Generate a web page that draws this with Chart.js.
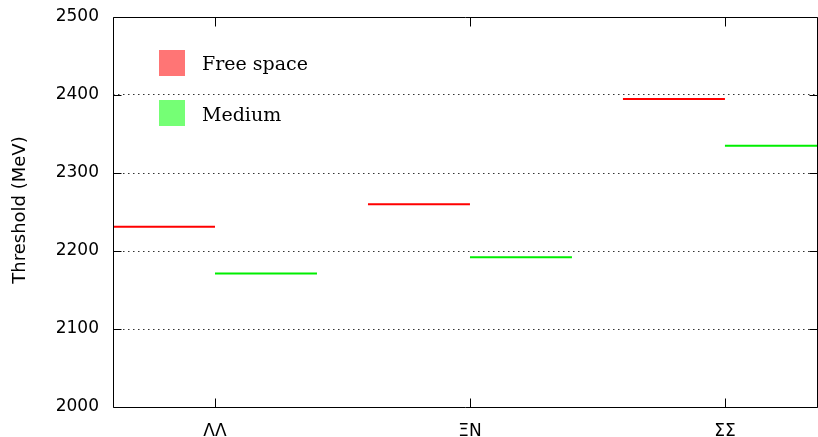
<!DOCTYPE html>
<html>
<head>
<meta charset="utf-8">
<script src="https://cdn.jsdelivr.net/npm/chart.js@4"></script>
<style>
  html, body { margin: 0; padding: 0; background: #fff; }
  #wrap { width: 818px; height: 437px; }
</style>
</head>
<body>
<div id="wrap"><canvas id="mycanvas" width="818" height="437"></canvas></div>
<script>
// data
var categories = ['ΛΛ', 'ΞN', 'ΣΣ'];
var freeSpace = [2231, 2260, 2395];
var medium = [2171, 2192, 2335];
var yTicks = [2000, 2100, 2200, 2300, 2400, 2500];
var seriesNames = ['Free space', 'Medium'];

var lineColors = ['#ff0000', '#00ee00'];
var keyColors = ['#ff7575', '#75ff75'];
var half = 0.4;   // each level spans 0.4 of a category slot

// free space level sits left of the category position, medium level right of it
function segments(values, side) {
	var pts = [];
	for (var i = 0; i < values.length; i++) {
		var c = i + 1;
		if (side < 0) {
			pts.push({x: c - half, y: values[i]});
			pts.push({x: c, y: values[i]});
		} else {
			pts.push({x: c, y: values[i]});
			pts.push({x: c + half, y: values[i]});
		}
		pts.push({x: c, y: null});
	}
	return pts;
}

// box, tick marks, legend and y title
var framePlugin = {
	id: 'frame',
	afterDraw: function(chart) {
		var ctx = chart.ctx;
		var a = chart.chartArea;
		var xs = chart.scales.x, ys = chart.scales.y;
		var L = Math.round(a.left) + 0.5, R = Math.round(a.right) - 0.5;
		var T = Math.round(a.top) + 0.5, B = Math.round(a.bottom) + 0.5;
		ctx.save();
		ctx.strokeStyle = '#000';
		ctx.lineWidth = 1;
		ctx.beginPath();
		ctx.moveTo(L, B); ctx.lineTo(L, T); ctx.lineTo(R, T); ctx.lineTo(R, B); ctx.lineTo(L, B);
		yTicks.forEach(function(v) {
			var y = Math.round(ys.getPixelForValue(v)) + 0.5;
			ctx.moveTo(L, y); ctx.lineTo(L + 8, y);
			ctx.moveTo(R, y); ctx.lineTo(R - 8, y);
		});
		categories.forEach(function(c, i) {
			var x = Math.round(xs.getPixelForValue(i + 1)) + 0.5;
			ctx.moveTo(x, B); ctx.lineTo(x, B - 9);
			ctx.moveTo(x, T); ctx.lineTo(x, T + 9);
		});
		ctx.stroke();

		// key
		ctx.font = '19px "DejaVu Serif"';
		ctx.textBaseline = 'alphabetic';
		ctx.textAlign = 'left';
		seriesNames.forEach(function(name, i) {
			ctx.fillStyle = keyColors[i];
			ctx.fillRect(159, 50 + i * 50, 26, 26);
			ctx.fillStyle = '#000';
			ctx.fillText(name, 202, 70 + i * 51);
		});

		// y axis title
		ctx.translate(25, (a.top + a.bottom) / 2 - 2);
		ctx.rotate(-Math.PI / 2);
		ctx.textAlign = 'center';
		ctx.font = '18px "DejaVu Sans"';
		ctx.fillStyle = '#000';
		ctx.fillText('Threshold (MeV)', 0, 0);
		ctx.restore();
	}
};

var chartdata = {
	datasets: [
		{
			label: seriesNames[0],
			data: segments(freeSpace, -1),
			borderColor: lineColors[0],
			borderWidth: 2,
			pointRadius: 0,
			spanGaps: false
		},
		{
			label: seriesNames[1],
			data: segments(medium, 1),
			borderColor: lineColors[1],
			borderWidth: 2,
			pointRadius: 0,
			spanGaps: false
		}
	]
};

var ctx = document.getElementById('mycanvas');

var lineGraph = new Chart(ctx, {
	type: 'line',
	data: chartdata,
	plugins: [framePlugin],
	options: {
		responsive: false,
		animation: false,
		layout: {padding: {top: 17, right: 0, left: 0, bottom: 0}},
		plugins: {legend: {display: false}, tooltip: {enabled: false}},
		scales: {
			x: {
				type: 'linear',
				min: 1 - half,
				max: 3.365,
				afterBuildTicks: function(s) {
					s.ticks = categories.map(function(c, i) { return {value: i + 1}; });
				},
				afterFit: function(s) {
					s.height = 30;
					s.paddingLeft = 0; s.paddingRight = 0;
				},
				ticks: {
					padding: 14,
					color: '#000',
					font: {family: 'DejaVu Sans', size: 17},
					maxRotation: 0,
					callback: function(v) { return categories[v - 1]; }
				},
				grid: {display: false, drawTicks: false},
				border: {display: false}
			},
			y: {
				min: yTicks[0],
				max: yTicks[yTicks.length - 1],
				afterBuildTicks: function(s) {
					s.ticks = yTicks.map(function(v) { return {value: v}; });
				},
				afterFit: function(s) {
					s.width = 113;
					s.paddingTop = 0; s.paddingBottom = 0;
				},
				ticks: {
					padding: 14,
					color: '#000',
					font: {family: 'DejaVu Sans', size: 17},
					callback: function(v) { return String(v); }
				},
				grid: {
					drawTicks: false,
					lineWidth: 1,
					color: function(c) {
						var v = c.tick && c.tick.value;
						return (v === yTicks[0] || v === yTicks[yTicks.length - 1]) ? 'rgba(0,0,0,0)' : '#333';
					}
				},
				border: {display: false, dash: [1.5, 3.5]}
			}
		}
	}
});
</script>
</body>
</html>
